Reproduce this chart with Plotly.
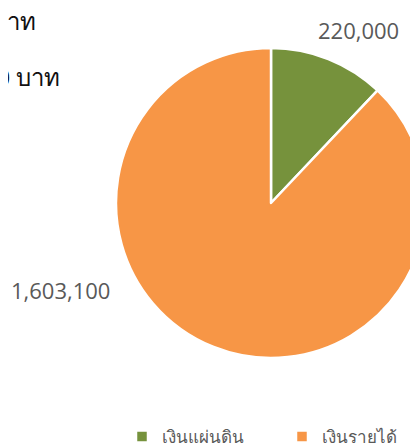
import plotly.graph_objects as go

labels = ["เงินแผ่นดิน", "เงินรายได้"]
values = [220000, 1603100]
colors = ["#76923C", "#F79646"]
unit = "บาท"

OFF = 8          # page body margin
W, H = 418, 440


def px(x):
    return (x - OFF) / W


def py(y):
    return 1 - (y - OFF) / H


fig = go.Figure()
fig.add_trace(go.Pie(
    labels=labels, values=values, sort=False, direction="clockwise", rotation=0,
    marker=dict(colors=colors, line=dict(color="white", width=2.5)),
    textinfo="none", hoverinfo="label+value",
    domain=dict(x=[px(116), px(426)], y=[py(358), py(48)]),
))

lab_font = dict(family="Open Sans", size=22, color="#595959")
fig.add_annotation(x=px(358), y=py(30), xref="paper", yref="paper",
                   text=f"{values[0]:,}", showarrow=False, font=lab_font,
                   xanchor="center", yanchor="middle")
fig.add_annotation(x=px(60), y=py(290), xref="paper", yref="paper",
                   text=f"{values[1]:,}", showarrow=False, font=lab_font,
                   xanchor="center", yanchor="middle")

title_font = dict(family="Noto Sans", size=24, color="#111111")
fig.add_annotation(x=px(38), y=py(21), xref="paper", yref="paper",
                   text=f"{labels[0]} {values[0]:,} {unit}", showarrow=False,
                   font=title_font, xanchor="right", yanchor="middle")
fig.add_annotation(x=px(62), y=py(76), xref="paper", yref="paper",
                   text=f"{labels[1]} {values[1]:,} {unit}", showarrow=False,
                   font=title_font, xanchor="right", yanchor="middle")

fig.update_layout(
    width=W, height=H, margin=dict(l=0, r=0, t=0, b=0, autoexpand=False),
    paper_bgcolor="white", plot_bgcolor="white",
    showlegend=True,
    legend=dict(orientation="h", xref="container", yref="container",
                x=px(122), y=py(437), xanchor="left", yanchor="middle",
                font=dict(family="Noto Sans", size=17, color="#595959"),
                entrywidth=115, entrywidthmode="pixels"),
)
fig.write_html("out.html")
